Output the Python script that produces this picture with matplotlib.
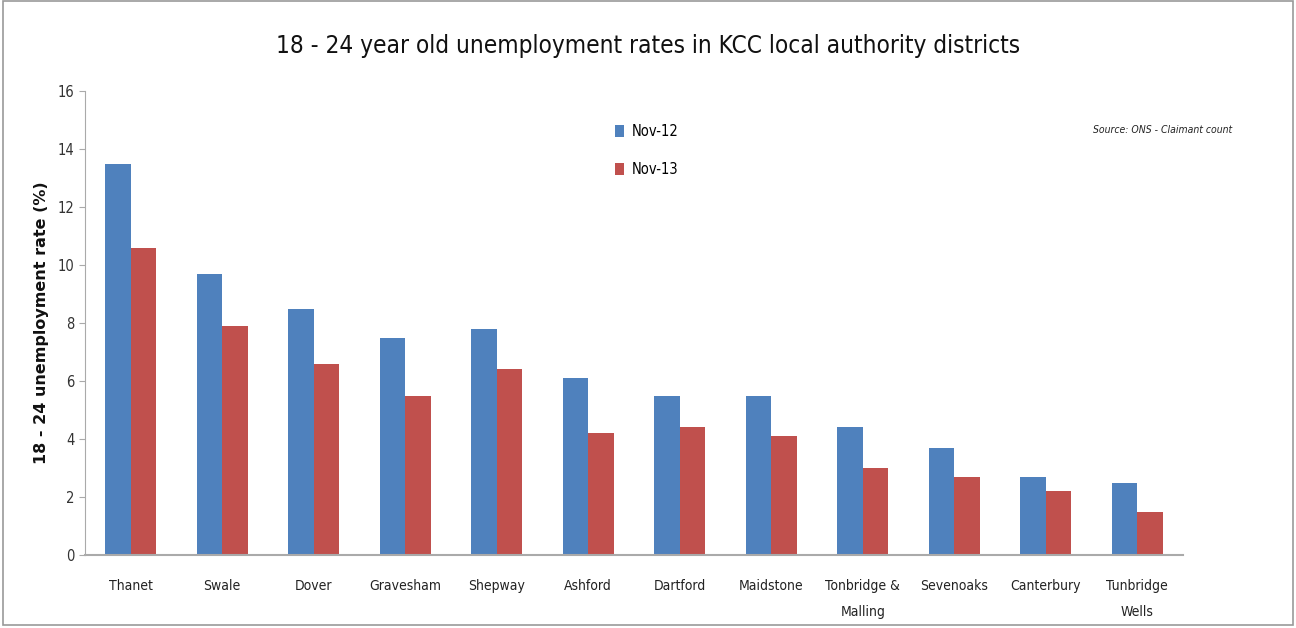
import matplotlib
matplotlib.use("Agg")
import matplotlib.pyplot as plt
import numpy as np
from matplotlib.patches import Rectangle

districts = ["Thanet", "Swale", "Dover", "Gravesham", "Shepway", "Ashford",
             "Dartford", "Maidstone", "Tonbridge &\nMalling", "Sevenoaks",
             "Canterbury", "Tunbridge\nWells"]
nov12 = [13.5, 9.7, 8.5, 7.5, 7.8, 6.1, 5.5, 5.5, 4.4, 3.7, 2.7, 2.5]
nov13 = [10.6, 7.9, 6.6, 5.5, 6.4, 4.2, 4.4, 4.1, 3.0, 2.7, 2.2, 1.5]

plt.rcParams['font.family'] = ['DejaVu Sans']
plt.rcParams['font.stretch'] = 'condensed'

fig = plt.figure(figsize=(12.96, 6.28), dpi=100)
ax = fig.add_axes([85/1296, 1-555/628, 1098/1296, 464/628])

x = np.arange(len(districts))
w = 0.28
ax.bar(x - w/2, nov12, w, color="#4f81bd", label="Nov-12")
ax.bar(x + w/2, nov13, w, color="#c0504d", label="Nov-13")

ax.set_xlim(-0.5, len(districts) - 0.5)
ax.set_ylim(0, 16)
ax.set_yticks(range(0, 17, 2))
ax.set_xticks(x)
ax.set_xticklabels(districts, fontsize=10, color="#222222", linespacing=2.1)
ax.tick_params(axis='x', length=0, pad=17)
ax.tick_params(axis='y', labelsize=10.5, colors="#333333", length=4, color="#aaaaaa")
for s in ["top", "right"]:
    ax.spines[s].set_visible(False)
ax.spines["left"].set_color("#aaaaaa")
ax.spines["bottom"].set_color("#aaaaaa")
ax.spines["bottom"].set_linewidth(1.5)

ax.set_ylabel("18 - 24 unemployment rate (%)", fontsize=11.5, fontweight="bold",
              fontstretch="normal", color="#111111", labelpad=6)

ax.legend(loc="upper left", bbox_to_anchor=(0.471, 0.958), frameon=False,
          fontsize=10.5, handlelength=0.6, handleheight=0.9, labelspacing=1.6,
          handletextpad=0.5)

fig.text(0.5, 0.915, "18 - 24 year old unemployment rates in KCC local authority districts",
         ha="center", fontsize=17.5, color="#111111")
fig.text(1232/1296, 1-133/628, "Source: ONS - Claimant count", ha="right",
         fontsize=7.5, style="italic", color="#222222")

fig.patches.append(Rectangle((0.002, 0.004), 0.996, 0.994, transform=fig.transFigure,
                             fill=False, edgecolor="#999999", linewidth=1.2))

fig.savefig("out.png", dpi=100)
